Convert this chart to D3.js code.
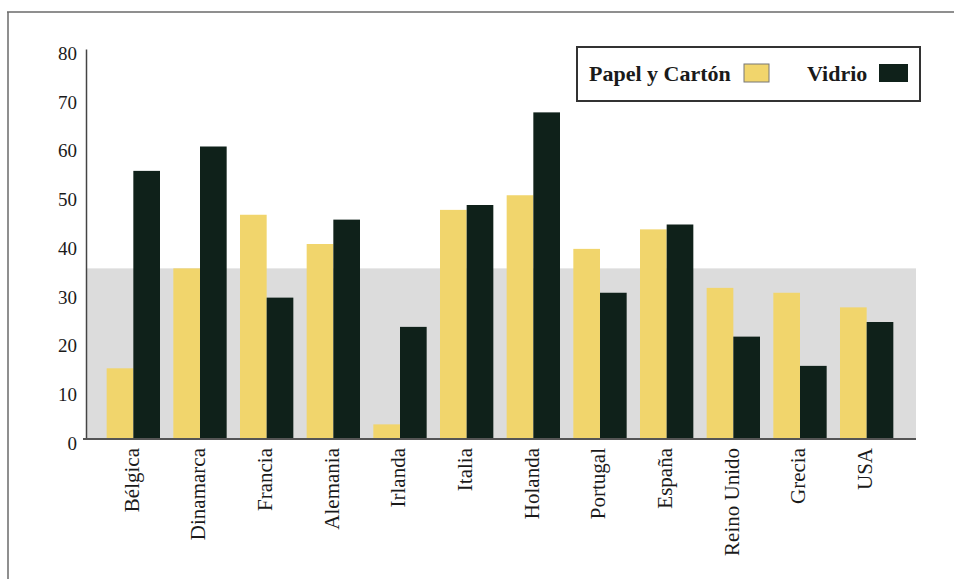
<!DOCTYPE html>
<html>
<head>
<meta charset="utf-8">
<script src="https://cdn.jsdelivr.net/npm/d3@7"></script>
<style>
  html, body { margin: 0; padding: 0; background: #fff; }
  svg { display: block; }
  text { font-family: "Liberation Serif", "Times New Roman", serif; fill: #1a1a1a; }
</style>
</head>
<body>
<svg id="chart" width="954" height="579"></svg>
<script>
const categories = ["Bélgica", "Dinamarca", "Francia", "Alemania", "Irlanda", "Italia", "Holanda", "Portugal", "España", "Reino Unido", "Grecia", "USA"];
const papel = [14.5, 35, 46, 40, 3, 47, 50, 39, 43, 31, 30, 27];
const vidrio = [55, 60, 29, 45, 23, 48, 67, 30, 44, 21, 15, 24];
const seriesNames = ["Papel y Cartón", "Vidrio"];
const yTicks = [0, 10, 20, 30, 40, 50, 60, 70, 80];
const bandValue = 35;

const colors = { "Papel y Cartón": "#f1d56c", "Vidrio": "#0f211a" };

const svg = d3.select("#chart");

// outer frame (top and left edges)
svg.append("line").attr("x1", 7).attr("x2", 954).attr("y1", 12).attr("y2", 12)
  .attr("stroke", "#6a6a6a").attr("stroke-width", 1.5);
svg.append("line").attr("x1", 8).attr("x2", 8).attr("y1", 12).attr("y2", 579)
  .attr("stroke", "#6a6a6a").attr("stroke-width", 1.5);

const plotLeft = 86, plotRight = 916;
const y = d3.scaleLinear().domain([0, 80]).range([439, 49]);
const x0 = d3.scaleBand().domain(categories).range([100, 900]).paddingInner(0.2).paddingOuter(0.1);
const x1 = d3.scaleBand().domain(seriesNames).range([0, x0.bandwidth()]);

// gray band
svg.append("rect")
  .attr("x", plotLeft).attr("y", y(bandValue))
  .attr("width", plotRight - plotLeft).attr("height", y(0) - y(bandValue))
  .attr("fill", "#dcdcdc");

// bars
const rows = categories.map((c, i) => ({ cat: c, values: [
  { key: seriesNames[0], value: papel[i] },
  { key: seriesNames[1], value: vidrio[i] }
]}));

const g = svg.append("g");
g.selectAll("g.grp").data(rows).join("g")
  .attr("class", "grp")
  .attr("transform", d => `translate(${x0(d.cat)},0)`)
  .selectAll("rect").data(d => d.values).join("rect")
  .attr("x", d => x1(d.key))
  .attr("width", x1.bandwidth())
  .attr("y", d => y(d.value))
  .attr("height", d => y(0) - y(d.value))
  .attr("fill", d => colors[d.key]);

// y axis
const yAxis = d3.axisLeft(y).tickValues(yTicks).tickSize(0).tickPadding(9).tickFormat(d3.format("d"));
const ya = svg.append("g").attr("transform", `translate(${plotLeft},0)`).call(yAxis);
ya.select(".domain").attr("stroke", "#444").attr("stroke-width", 1.5);
ya.selectAll("text").attr("font-size", 19).attr("font-family", "Liberation Serif").attr("fill", "#1a1a1a").attr("dy", "0.55em");

// x axis
const xAxis = d3.axisBottom(x0).tickSize(0).tickPadding(0);
const xa = svg.append("g").attr("transform", `translate(0,${y(0)})`).call(xAxis);
xa.select(".domain").attr("d", `M${plotLeft - 3},0H${plotRight}`).attr("stroke", "#555").attr("stroke-width", 2);
xa.selectAll("text")
  .attr("font-size", 21)
  .attr("font-family", "Liberation Serif")
  .attr("fill", "#1a1a1a")
  .attr("text-anchor", "end")
  .attr("transform", "rotate(-90)")
  .attr("x", -9)
  .attr("y", -2)
  .attr("dy", "0.35em");

// legend
const lg = svg.append("g");
lg.append("rect").attr("x", 577).attr("y", 47).attr("width", 343).attr("height", 54)
  .attr("fill", "#fff").attr("stroke", "#333").attr("stroke-width", 2);
lg.append("text").attr("x", 589).attr("y", 81).attr("font-size", 22).attr("font-weight", "bold")
  .text(seriesNames[0]);
lg.append("rect").attr("x", 744).attr("y", 64).attr("width", 25).attr("height", 18)
  .attr("fill", colors[seriesNames[0]]).attr("stroke", "#777").attr("stroke-width", 1);
lg.append("text").attr("x", 807).attr("y", 81).attr("font-size", 22).attr("font-weight", "bold")
  .text(seriesNames[1]);
lg.append("rect").attr("x", 879).attr("y", 64).attr("width", 29).attr("height", 18)
  .attr("fill", colors[seriesNames[1]]);
</script>
</body>
</html>
